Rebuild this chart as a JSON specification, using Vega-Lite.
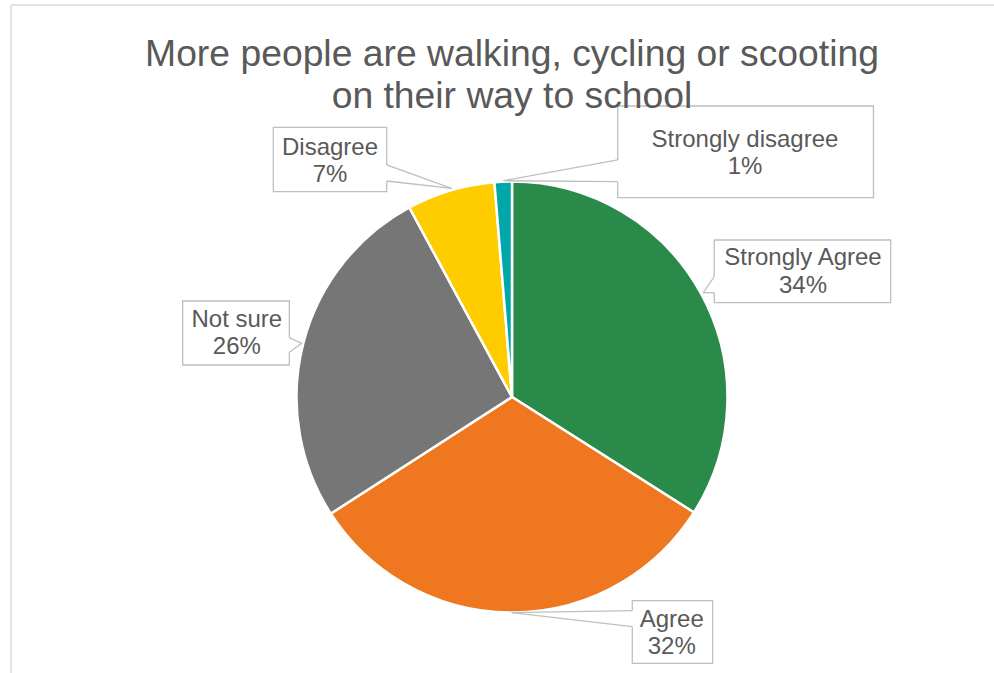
{
  "$schema": "https://vega.github.io/schema/vega-lite/v6.json",
  "autosize": {"type": "none"},
  "padding": {"left": 30, "top": 121, "right": 0, "bottom": 0},
  "width": 964,
  "height": 552,
  "background": "white",
  "config": {"view": {"stroke": null}},
  "title": {
    "text": ["More people are walking, cycling or scooting", "on their way to school"],
    "frame": "group",
    "anchor": "middle",
    "font": "Liberation Sans",
    "fontSize": 37.3,
    "fontWeight": "normal",
    "color": "#595959",
    "lineHeight": 42,
    "baseline": "bottom",
    "offset": -149
  },
  "data": {
    "values": [
      {"category": "Strongly Agree", "share": 0.340, "rank": 1},
      {"category": "Agree", "share": 0.319, "rank": 2},
      {"category": "Not sure", "share": 0.262, "rank": 3},
      {"category": "Disagree", "share": 0.066, "rank": 4},
      {"category": "Strongly disagree", "share": 0.013, "rank": 5}
    ]
  },
  "layer": [
    {
      "transform": [{"filter": "datum.rank === 1"}],
      "layer": [
        {
          "mark": {"type": "rule", "stroke": "#D9D9D9", "strokeWidth": 1.5},
          "encoding": {
            "x": {"datum": -2.3248, "type": "quantitative", "scale": {"domain": [-2.2367, 2.2367], "nice": false, "zero": false}, "axis": null},
            "x2": {"datum": 2.2367},
            "y": {"datum": 1.819, "type": "quantitative", "scale": {"domain": [-1.2807, 1.2807], "nice": false, "zero": false}, "axis": null},
            "y2": {"datum": 1.819}
          }
        },
        {
          "mark": {"type": "rule", "stroke": "#D9D9D9", "strokeWidth": 1.5},
          "encoding": {
            "x": {"datum": -2.3248},
            "x2": {"datum": -2.3248},
            "y": {"datum": 1.819},
            "y2": {"datum": -1.2807}
          }
        }
      ]
    },
    {
      "mark": {"type": "arc", "outerRadius": 215.5, "stroke": "white", "strokeWidth": 2.5},
      "encoding": {
        "theta": {"field": "share", "type": "quantitative", "stack": true},
        "color": {
          "field": "category",
          "type": "nominal",
          "scale": {
            "domain": ["Strongly Agree", "Agree", "Not sure", "Disagree", "Strongly disagree"],
            "range": ["#2A8A4A", "#EE7720", "#767676", "#FFCC00", "#00A7A8"]
          },
          "legend": null
        },
        "order": {"field": "rank", "type": "quantitative"}
      }
    },
    {
      "transform": [{"filter": "datum.category === 'Strongly disagree'"}],
      "layer": [
        {"mark": {"type": "rect", "fill": "white", "stroke": "#BFBFBF", "strokeWidth": 1.3},
         "encoding": {"x": {"datum": 0.4905}, "x2": {"datum": 1.6775}, "y": {"datum": 1.3503}, "y2": {"datum": 0.9248}}},
        {"mark": {"type": "rule", "stroke": "white", "strokeWidth": 3},
         "encoding": {"x": {"datum": 0.4905}, "x2": {"datum": 0.4905}, "y": {"datum": 1.0998}, "y2": {"datum": 0.9991}}},
        {"mark": {"type": "rule", "stroke": "#BFBFBF", "strokeWidth": 1.3},
         "encoding": {"x": {"datum": 0.4905}, "y": {"datum": 1.0998}, "x2": {"datum": -0.0404}, "y2": {"datum": 1.0037}}},
        {"mark": {"type": "rule", "stroke": "#BFBFBF", "strokeWidth": 1.3},
         "encoding": {"x": {"datum": 0.4905}, "y": {"datum": 0.9991}, "x2": {"datum": -0.0404}, "y2": {"datum": 1.0037}}},
        {"mark": {"type": "text", "font": "Liberation Sans", "fontSize": 24, "fill": "#595959", "align": "center", "baseline": "alphabetic", "lineHeight": 27.5,
                  "text": {"expr": "[datum.category, format(datum.share, '.0%')]"}},
         "encoding": {"x": {"datum": 1.0812}, "y": {"datum": 1.1615}}}
      ]
    },
    {
      "transform": [{"filter": "datum.category === 'Disagree'"}],
      "layer": [
        {"mark": {"type": "rect", "fill": "white", "stroke": "#BFBFBF", "strokeWidth": 1.3},
         "encoding": {"x": {"datum": -1.1077}, "x2": {"datum": -0.5814}, "y": {"datum": 1.2515}, "y2": {"datum": 0.9527}}},
        {"mark": {"type": "rule", "stroke": "white", "strokeWidth": 3},
         "encoding": {"x": {"datum": -0.5814}, "x2": {"datum": -0.5814}, "y": {"datum": 1.0766}, "y2": {"datum": 1.0023}}},
        {"mark": {"type": "rule", "stroke": "#BFBFBF", "strokeWidth": 1.3},
         "encoding": {"x": {"datum": -0.5814}, "y": {"datum": 1.0766}, "x2": {"datum": -0.2798}, "y2": {"datum": 0.9685}}},
        {"mark": {"type": "rule", "stroke": "#BFBFBF", "strokeWidth": 1.3},
         "encoding": {"x": {"datum": -0.5814}, "y": {"datum": 1.0023}, "x2": {"datum": -0.2798}, "y2": {"datum": 0.9685}}},
        {"mark": {"type": "text", "font": "Liberation Sans", "fontSize": 24, "fill": "#595959", "align": "center", "baseline": "alphabetic", "lineHeight": 27.5,
                  "text": {"expr": "[datum.category, format(datum.share, '.0%')]"}},
         "encoding": {"x": {"datum": -0.8445}, "y": {"datum": 1.123}}}
      ]
    },
    {
      "transform": [{"filter": "datum.category === 'Strongly Agree'"}],
      "layer": [
        {"mark": {"type": "rect", "fill": "white", "stroke": "#BFBFBF", "strokeWidth": 1.3},
         "encoding": {"x": {"datum": 0.9387}, "x2": {"datum": 1.7573}, "y": {"datum": 0.7285}, "y2": {"datum": 0.4376}}},
        {"mark": {"type": "rule", "stroke": "white", "strokeWidth": 3},
         "encoding": {"x": {"datum": 0.9387}, "x2": {"datum": 0.9387}, "y": {"datum": 0.5582}, "y2": {"datum": 0.484}}},
        {"mark": {"type": "rule", "stroke": "#BFBFBF", "strokeWidth": 1.3},
         "encoding": {"x": {"datum": 0.9387}, "y": {"datum": 0.5582}, "x2": {"datum": 0.8877}, "y2": {"datum": 0.484}}},
        {"mark": {"type": "rule", "stroke": "#BFBFBF", "strokeWidth": 1.3},
         "encoding": {"x": {"datum": 0.9387}, "y": {"datum": 0.484}, "x2": {"datum": 0.8877}, "y2": {"datum": 0.484}}},
        {"mark": {"type": "text", "font": "Liberation Sans", "fontSize": 24, "fill": "#595959", "align": "center", "baseline": "alphabetic", "lineHeight": 27.5,
                  "text": {"expr": "[datum.category, format(datum.share, '.0%')]"}},
         "encoding": {"x": {"datum": 1.3503}, "y": {"datum": 0.6125}}}
      ]
    },
    {
      "transform": [{"filter": "datum.category === 'Not sure'"}],
      "layer": [
        {"mark": {"type": "rect", "fill": "white", "stroke": "#BFBFBF", "strokeWidth": 1.3},
         "encoding": {"x": {"datum": -1.5281}, "x2": {"datum": -1.0334}, "y": {"datum": 0.4455}, "y2": {"datum": 0.1485}}},
        {"mark": {"type": "rule", "stroke": "white", "strokeWidth": 3},
         "encoding": {"x": {"datum": -1.0334}, "x2": {"datum": -1.0334}, "y": {"datum": 0.2752}, "y2": {"datum": 0.2074}}},
        {"mark": {"type": "rule", "stroke": "#BFBFBF", "strokeWidth": 1.3},
         "encoding": {"x": {"datum": -1.0334}, "y": {"datum": 0.2752}, "x2": {"datum": -0.9759}, "y2": {"datum": 0.2492}}},
        {"mark": {"type": "rule", "stroke": "#BFBFBF", "strokeWidth": 1.3},
         "encoding": {"x": {"datum": -1.0334}, "y": {"datum": 0.2074}, "x2": {"datum": -0.9759}, "y2": {"datum": 0.2492}}},
        {"mark": {"type": "text", "font": "Liberation Sans", "fontSize": 24, "fill": "#595959", "align": "center", "baseline": "alphabetic", "lineHeight": 27.5,
                  "text": {"expr": "[datum.category, format(datum.share, '.0%')]"}},
         "encoding": {"x": {"datum": -1.277}, "y": {"datum": 0.3262}}}
      ]
    },
    {
      "transform": [{"filter": "datum.category === 'Agree'"}],
      "layer": [
        {"mark": {"type": "rect", "fill": "white", "stroke": "#BFBFBF", "strokeWidth": 1.3},
         "encoding": {"x": {"datum": 0.5582}, "x2": {"datum": 0.9313}, "y": {"datum": -0.9452}, "y2": {"datum": -1.2357}}},
        {"mark": {"type": "rule", "stroke": "white", "strokeWidth": 3},
         "encoding": {"x": {"datum": 0.5582}, "x2": {"datum": 0.5582}, "y": {"datum": -0.9916}, "y2": {"datum": -1.0659}}},
        {"mark": {"type": "rule", "stroke": "#BFBFBF", "strokeWidth": 1.3},
         "encoding": {"x": {"datum": 0.5582}, "y": {"datum": -0.9916}, "x2": {"datum": -0.0014}, "y2": {"datum": -1.0009}}},
        {"mark": {"type": "rule", "stroke": "#BFBFBF", "strokeWidth": 1.3},
         "encoding": {"x": {"datum": 0.5582}, "y": {"datum": -1.0659}, "x2": {"datum": -0.0014}, "y2": {"datum": -1.0009}}},
        {"mark": {"type": "text", "font": "Liberation Sans", "fontSize": 24, "fill": "#595959", "align": "center", "baseline": "alphabetic", "lineHeight": 27.5,
                  "text": {"expr": "[datum.category, format(datum.share, '.0%')]"}},
         "encoding": {"x": {"datum": 0.7411}, "y": {"datum": -1.0659}}}
      ]
    }
  ]
}
